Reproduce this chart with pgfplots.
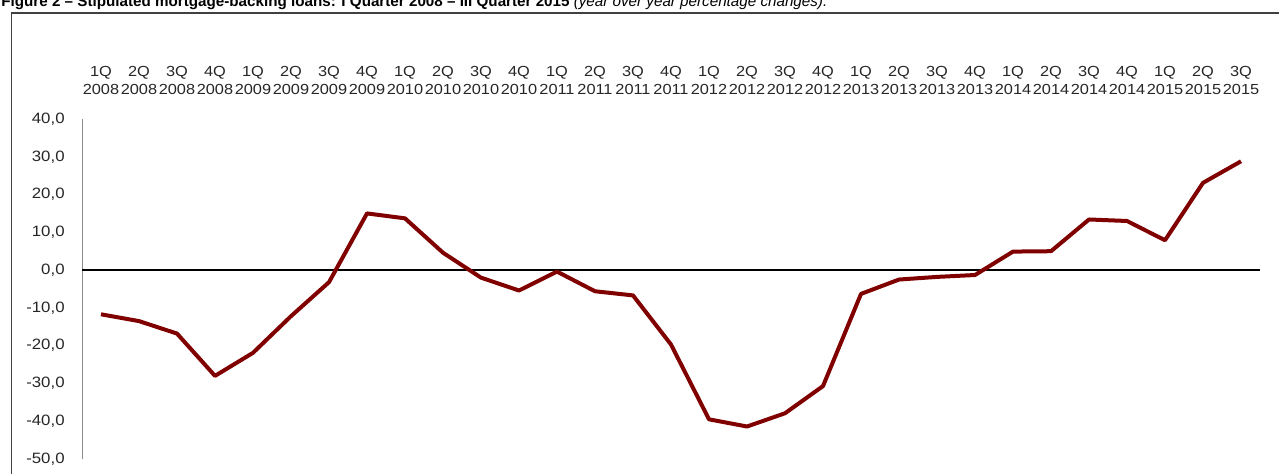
\documentclass[border=0pt]{standalone}
\usepackage{fontspec}
\setmainfont{Liberation Sans}
\newfontfamily\tickfont[FakeStretch=1.12]{Liberation Sans}
\usepackage{pgfplots}
\pgfplotsset{compat=1.18}
\definecolor{linered}{RGB}{128,0,0}
\pgfplotstableread{
x y
0 -11.7
1 -13.5
2 -16.8
3 -28.0
4 -21.9
5 -12.2
6 -3.2
7 15.0
8 13.7
9 4.6
10 -2.0
11 -5.4
12 -0.4
13 -5.6
14 -6.7
15 -19.7
16 -39.5
17 -41.4
18 -37.9
19 -30.7
20 -6.3
21 -2.5
22 -1.8
23 -1.3
24 4.9
25 5.0
26 13.4
27 13.0
28 7.9
29 23.1
30 28.8
}\datatable
\begin{document}
\begin{tikzpicture}[x=0.5pt,y=0.5pt]
\useasboundingbox (0,0) rectangle (1279,474);
\clip (0,0) rectangle (1279,474);
\node[anchor=base west, inner sep=0pt, font=\fontsize{7.6}{8}\selectfont\bfseries] at (1,467.5) {Figure 2 -- Stipulated mortgage-backing loans: I Quarter 2008 -- III Quarter 2015 {\mdseries\itshape (year over year percentage changes).}};
\draw[line width=0.65pt, black!75] (11.5,0) -- (11.5,461) -- (1290,461);
\begin{axis}[
  at={(41pt,7.5pt)}, anchor=south west,
  scale only axis, width=589pt, height=170pt,
  xmin=-0.5, xmax=30.5, ymin=-50, ymax=40,
  axis x line*=top, axis y line*=left,
  x axis line style={draw=none},
  y axis line style={draw=black!45, line width=0.5pt},
  major tick length=0pt,
  xtick={0,...,30},
  xticklabels={1Q\\2008,2Q\\2008,3Q\\2008,4Q\\2008,1Q\\2009,2Q\\2009,3Q\\2009,4Q\\2009,1Q\\2010,2Q\\2010,3Q\\2010,4Q\\2010,1Q\\2011,2Q\\2011,3Q\\2011,4Q\\2011,1Q\\2012,2Q\\2012,3Q\\2012,4Q\\2012,1Q\\2013,2Q\\2013,3Q\\2013,4Q\\2013,1Q\\2014,2Q\\2014,3Q\\2014,4Q\\2014,1Q\\2015,2Q\\2015,3Q\\2015},
  xticklabel style={align=center, inner sep=0pt, yshift=12pt, font=\tickfont\fontsize{7.3}{9}\selectfont, text=black!85},
  ytick={-50,-40,...,40},
  yticklabel style={inner sep=0pt, xshift=-8.5pt, font=\tickfont\fontsize{7.5}{9}\selectfont, text=black!85},
  /pgf/number format/.cd, fixed, fixed zerofill, precision=1, use comma, assume math mode=true,
]
\draw[black, line width=0.7pt] (axis cs:-0.5,0) -- (axis cs:30.5,0);
\addplot[linered, line width=2pt, line join=round, mark=none] table[x=x,y=y] {\datatable};
\end{axis}
\end{tikzpicture}
\end{document}
